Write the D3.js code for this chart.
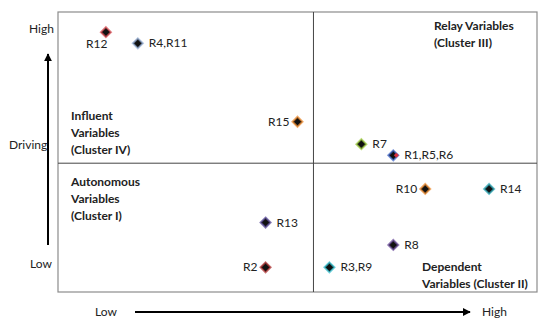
<!DOCTYPE html>
<html>
<head>
<meta charset="utf-8">
<script src="https://cdn.jsdelivr.net/npm/d3@7"></script>
<style>
  body { margin: 0; background: #fff; }
  text { font-family: Lato, "Open Sans", sans-serif; fill: #222; }
</style>
</head>
<body>
<div id="chart"></div>
<script>
// MICMAC matrix: dependence (x) vs driving power (y)
const labels = ["R12", "R4,R11", "R15", "R7", "R1,R5,R6", "R10", "R14", "R13", "R8", "R2", "R3,R9"];
const dependence = [2, 3, 8, 10, 11, 12, 14, 7, 11, 7, 9];
const driving = [23, 22, 15, 13, 12, 9, 9, 6, 4, 2, 2];
const haloColors = ["#d9474f", "#8fa8d0", "#f08a2c", "#9ccc3c", "#3a62c8", "#f08a2c", "#2aa8b8", "#5a4a9a", "#6a4a9a", "#b03030", "#30c0d0"];
const labelSide = ["below", "right", "left", "right", "right", "left", "right", "right", "right", "left", "right"];

const clusters = [
  { lines: ["Relay Variables", "(Cluster III)"], qx: "high", qy: "high" },
  { lines: ["Influent", "Variables", "(Cluster IV)"], qx: "low", qy: "high" },
  { lines: ["Autonomous", "Variables", "(Cluster I)"], qx: "low", qy: "low" },
  { lines: ["Dependent", "Variables (Cluster II)"], qx: "high", qy: "low" }
];

const W = 550, H = 325;
const box = { left: 58, right: 537, top: 12, bottom: 292 };
const xMid = 8.5, yMid = 11.3;

const svg = d3.select("#chart").append("svg")
  .attr("width", W).attr("height", H);

const x = d3.scaleLinear().domain([0.5, 15.5]).range([box.left, box.right]);
const y = d3.scaleLinear().domain([-0.2, 24.8]).range([box.bottom, box.top]);

// outer frame
svg.append("rect")
  .attr("x", box.left).attr("y", box.top)
  .attr("width", box.right - box.left).attr("height", box.bottom - box.top)
  .attr("fill", "none").attr("stroke", "#8c8c8c").attr("stroke-width", 1.2);

// quadrant dividers
svg.append("line")
  .attr("x1", x(xMid)).attr("x2", x(xMid))
  .attr("y1", box.top).attr("y2", box.bottom)
  .attr("stroke", "#444").attr("stroke-width", 1);
svg.append("line")
  .attr("x1", box.left).attr("x2", box.right)
  .attr("y1", y(yMid)).attr("y2", y(yMid))
  .attr("stroke", "#444").attr("stroke-width", 1);

// cluster captions
const capPos = {
  "high-high": [434, 30],
  "low-high": [71, 120],
  "low-low": [71, 186],
  "high-low": [422, 271]
};
clusters.forEach(c => {
  const [cx, cy] = capPos[c.qx + "-" + c.qy];
  const t = svg.append("text")
    .attr("x", cx).attr("y", cy)
    .attr("font-size", "12px").attr("font-weight", "bold");
  c.lines.forEach((ln, i) => {
    t.append("tspan").attr("x", cx).attr("dy", i === 0 ? 0 : 16.8).text(ln);
  });
});

// axis arrows
const defs = svg.append("defs");
defs.append("marker")
  .attr("id", "head").attr("viewBox", "0 0 10 10")
  .attr("refX", 9).attr("refY", 5)
  .attr("markerWidth", 8).attr("markerHeight", 8)
  .attr("markerUnits", "userSpaceOnUse")
  .attr("orient", "auto")
  .append("path").attr("d", "M0,0 L10,5 L0,10 z").attr("fill", "#000");

svg.append("line")
  .attr("x1", 48).attr("y1", 245).attr("x2", 48).attr("y2", 54)
  .attr("stroke", "#000").attr("stroke-width", 2)
  .attr("marker-end", "url(#head)");
svg.append("line")
  .attr("x1", 135).attr("y1", 312).attr("x2", 470).attr("y2", 312)
  .attr("stroke", "#000").attr("stroke-width", 2)
  .attr("marker-end", "url(#head)");

const axisText = [
  ["High", 29, 33],
  ["Driving", 9, 149],
  ["Low", 30, 268],
  ["Low", 95, 316],
  ["High", 482, 316]
];
svg.selectAll("text.axis").data(axisText).enter().append("text")
  .attr("class", "axis")
  .attr("x", d => d[1]).attr("y", d => d[2])
  .attr("font-size", "12px")
  .text(d => d[0]);

// points
const pts = labels.map((l, i) => ({
  label: l, dx: dependence[i], dy: driving[i], color: haloColors[i], side: labelSide[i]
}));

const rhomb = r => `M0,${-r}L${r},0L0,${r}L${-r},0Z`;

const g = svg.selectAll("g.pt").data(pts).enter().append("g")
  .attr("class", "pt")
  .attr("transform", d => `translate(${x(d.dx)},${y(d.dy)})`);

g.append("path")
  .attr("d", rhomb(5))
  .attr("fill", "#111")
  .attr("stroke", d => d.color)
  .attr("stroke-width", 2)
  .attr("stroke-opacity", 0.7);

// overlapping marker for R1,R5,R6
g.filter(d => d.label === "R1,R5,R6").append("path")
  .attr("d", rhomb(2.5))
  .attr("transform", "translate(3,0)")
  .attr("fill", "#d83040");

g.append("text")
  .attr("font-size", "12px")
  .attr("x", d => d.side === "right" ? 11 : d.side === "left" ? -8 : -20)
  .attr("y", d => d.side === "below" ? 16 : 4)
  .attr("text-anchor", d => d.side === "left" ? "end" : "start")
  .text(d => d.label);
</script>
</body>
</html>
